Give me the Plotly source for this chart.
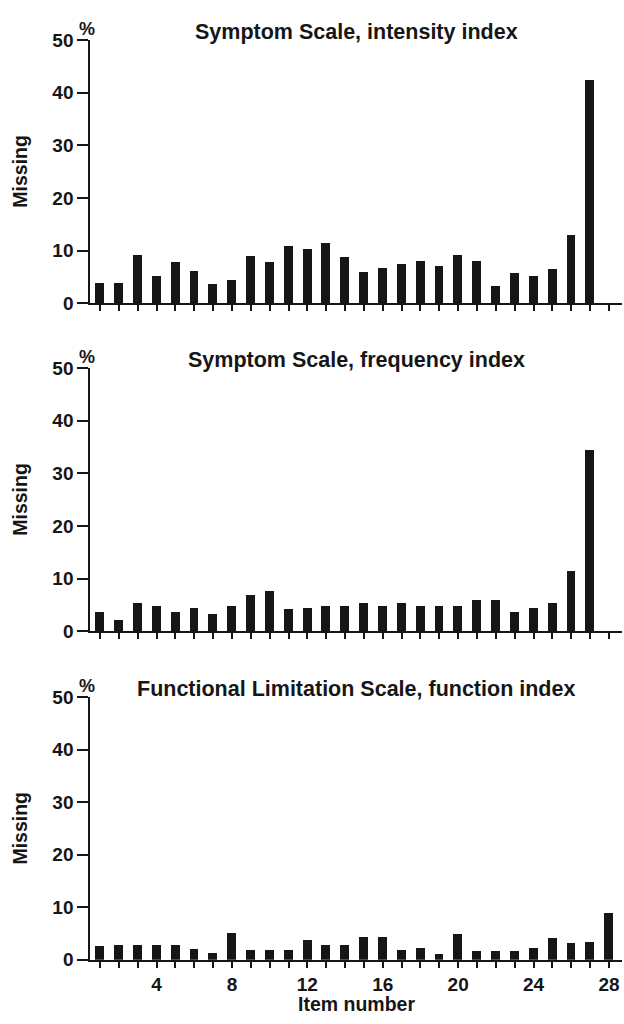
import plotly.graph_objects as go

items = list(range(1, 29))

intensity = [3.85, 3.8, 9.1, 5.2, 7.8, 6.15, 3.6, 4.3, 8.95, 7.8, 10.8, 10.25, 11.4, 8.8,
             5.95, 6.7, 7.5, 7.95, 7.1, 9.1, 7.9, 3.2, 5.7, 5.2, 6.5, 13.0, 42.4, 0]
frequency = [3.6, 2.05, 5.3, 4.7, 3.7, 4.3, 3.25, 4.7, 6.85, 7.7, 4.2, 4.3, 4.7, 4.7,
             5.35, 4.7, 5.3, 4.7, 4.7, 4.7, 5.9, 5.85, 3.7, 4.35, 5.4, 11.45, 34.5, 0]
function = [2.5, 2.8, 2.85, 2.85, 2.85, 1.95, 1.25, 5.05, 1.8, 1.85, 1.85, 3.75, 2.8, 2.8,
            4.3, 4.2, 1.75, 2.25, 1.1, 4.9, 1.7, 1.7, 1.7, 2.25, 4.1, 3.2, 3.25, 8.8]

titles = ["Symptom Scale, intensity index",
          "Symptom Scale, frequency index",
          "Functional Limitation Scale, function index"]
y_ticks = [0, 10, 20, 30, 40, 50]
x_ticklabels = [str(i) if i % 4 == 0 else "" for i in items]

series = [intensity, frequency, function]

W_PX, H_PX = 624, 1024
# panel pixel extents (top, bottom)
panels = [(30.8, 299.3), (365.7, 634.3), (701.7, 969.7)]
x_left, x_right = 90.3, 622.0
xdom = [x_left / W_PX, x_right / W_PX]

FONT = "Liberation Sans, Arial, sans-serif"
INK = "#161616"

fig = go.Figure()
layout = dict(
    width=W_PX, height=H_PX,
    margin=dict(l=0, r=0, t=0, b=0),
    paper_bgcolor="white", plot_bgcolor="white",
    showlegend=False,
    font=dict(family=FONT, color=INK, size=19, weight="bold"),
    bargap=0,
)
annotations = []

for k, (vals, ttl, (top, bot)) in enumerate(zip(series, titles, panels)):
    idx = "" if k == 0 else str(k + 1)
    fig.add_trace(go.Bar(x=items, y=vals, width=0.47, marker=dict(color=INK, line=dict(width=0)),
                         xaxis="x" + idx, yaxis="y" + idx))
    ydom = [1 - bot / H_PX, 1 - top / H_PX]
    layout["xaxis" + idx] = dict(
        domain=xdom, range=[0.485, 28.69], anchor="y" + idx,
        tickmode="array", tickvals=items,
        ticktext=x_ticklabels if k == 2 else [""] * len(items),
        ticks="outside", ticklen=6, tickwidth=2, tickcolor=INK,
        showline=True, linewidth=2, linecolor=INK,
        showgrid=False, zeroline=False,
        tickfont=dict(family=FONT, size=19, color=INK, weight="bold"),
    )
    layout["yaxis" + idx] = dict(
        domain=ydom, range=[0, 50], anchor="x" + idx,
        tickmode="array", tickvals=y_ticks,
        ticks="outside", ticklen=11, tickwidth=2, tickcolor=INK,
        showline=True, linewidth=2, linecolor=INK,
        showgrid=False, zeroline=False,
        tickfont=dict(family=FONT, size=19, color=INK, weight="bold"),
    )
    annotations.append(dict(
        text=ttl, xref="paper", yref="paper", x=(xdom[0] + xdom[1]) / 2, y=ydom[1],
        xanchor="center", yanchor="middle", yshift=8, showarrow=False,
        font=dict(family=FONT, size=21.5, color=INK, weight="bold")))
    annotations.append(dict(
        text="%", xref="paper", yref="paper", x=87 / W_PX, y=ydom[1],
        xanchor="center", yanchor="middle", yshift=11, showarrow=False,
        font=dict(family=FONT, size=18, color=INK, weight="bold")))
    annotations.append(dict(
        text="Missing", xref="paper", yref="paper", x=20 / W_PX, y=(ydom[0] + ydom[1]) / 2,
        xanchor="center", yanchor="middle", textangle=-90, showarrow=False,
        font=dict(family=FONT, size=19.5, color=INK, weight="bold")))

annotations.append(dict(
    text="Item number", xref="paper", yref="paper", x=(xdom[0] + xdom[1]) / 2, y=1 - 1015 / H_PX,
    xanchor="center", yanchor="middle", showarrow=False,
    font=dict(family=FONT, size=19.5, color=INK, weight="bold")))

layout["annotations"] = annotations
fig.update_layout(**layout)
fig.write_html(
    "out.html",
    post_script="document.body.style.margin='0px';document.body.style.padding='0px';"
                "document.documentElement.style.overflow='hidden';",
)
